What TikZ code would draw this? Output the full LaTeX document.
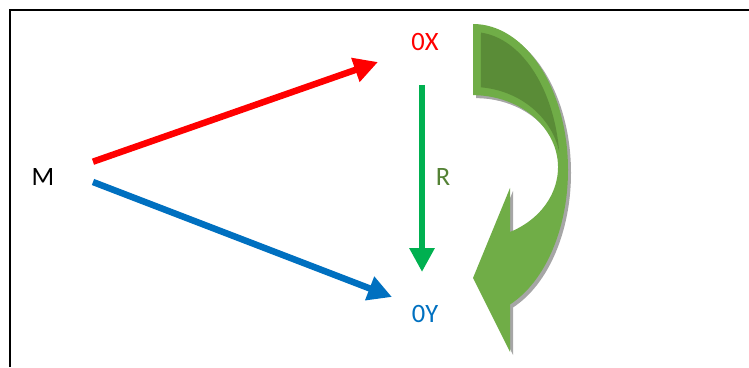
\documentclass[tikz,border=0pt]{standalone}
\usepackage{fontspec}
\setmainfont{Carlito}
\usetikzlibrary{arrows.meta}
\definecolor{cred}{HTML}{FF0000}
\definecolor{cblue}{HTML}{0070C0}
\definecolor{cgreen}{HTML}{00B050}
\definecolor{lgreen}{HTML}{70AD47}
\definecolor{dgreen}{HTML}{5A8C37}
\definecolor{rgreen}{HTML}{548235}
\definecolor{shadowgray}{HTML}{A6A6A6}
\newcommand\bentshape{(473,343) arc[start angle=90,end angle=-67.08,x radius=95pt,y radius=146pt] -- (510,15) -- (473,89) -- (510,179) -- (510,135) arc[start angle=-64.2,end angle=90,x radius=85pt,y radius=72pt] -- cycle}
\begin{document}
\begin{tikzpicture}[x=1pt,y=1pt,
  lbl/.style={font=\fontsize{26.5}{31}\selectfont, inner sep=0pt},
  fat/.style={line width=6.5pt, -{Triangle[width=24pt,length=24pt]}}]
\useasboundingbox (0,0) rectangle (749,367);
\draw[line width=2pt] (10,0) -- (10,357) -- (749,357);
% labels
\node[lbl] (M) at (43,190) {M};
\node[lbl, text=cred] (OX) at (425,325) {0X};
\node[lbl, text=cblue] (OY) at (425,53) {0Y};
\node[lbl, text=rgreen] (R) at (443,190) {R};
% connector ends
\coordinate (mr) at (93,205.3);
\coordinate (mb) at (93,185);
\coordinate (xin) at (378,305);
\coordinate (yin) at (392,70);
\coordinate (xout) at (422,282);
\coordinate (yout) at (422,95);
\draw[fat, cred] (mr) -- (xin);
\draw[fat, cblue] (mb) -- (yin);
\draw[fat, cgreen, line width=6pt] (xout) -- (yout);
% curved arrow
\fill[shadowgray, shift={(3,-3)}] \bentshape;
\fill[lgreen] \bentshape;
\fill[dgreen] (481,334.4) arc[start angle=84.7,end angle=7.5,x radius=87pt,y radius=138pt] arc[start angle=10.8,end angle=84.8,x radius=88pt,y radius=80pt] -- cycle;
\end{tikzpicture}
\end{document}
